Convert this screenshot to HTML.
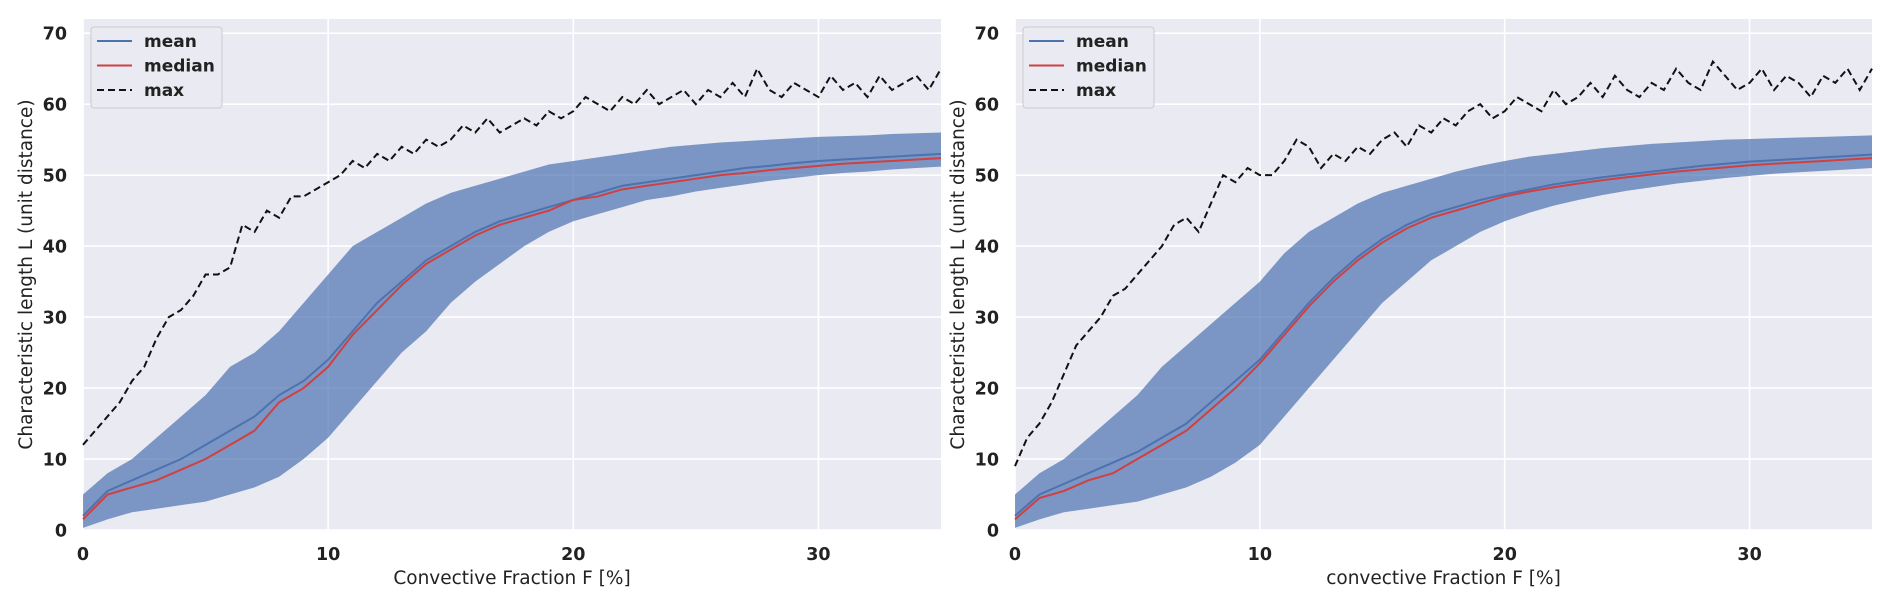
<!DOCTYPE html>
<html><head><meta charset="utf-8"><style>
body{margin:0;background:#fff;width:1892px;height:605px;overflow:hidden;font-family:"DejaVu Sans","Liberation Sans",sans-serif}
</style></head><body>
<svg id="chart" width="1892" height="605" xmlns="http://www.w3.org/2000/svg" font-family="DejaVu Sans, Liberation Sans, sans-serif"></svg>
<script>
const xsBand=[0,1,2,3,4,5,6,7,8,9,10,11,12,13,14,15,16,17,18,19,20,21,22,23,24,25,26,27,28,29,30,31,32,33,34,35];
// left panel
const L_mean=[2,5.5,7,8.5,10,12,14,16,19,21,24,28,32,35,38,40,42,43.5,44.5,45.5,46.5,47.5,48.5,49,49.5,50,50.5,51,51.3,51.7,52,52.2,52.4,52.6,52.8,53];
const L_median=[1.5,5,6,7,8.5,10,12,14,18,20,23,27.5,31,34.5,37.5,39.5,41.5,43,44,45,46.5,47,48,48.5,49,49.5,50,50.3,50.7,51,51.3,51.6,51.8,52,52.2,52.4];
const L_upper=[5,8,10,13,16,19,23,25,28,32,36,40,42,44,46,47.5,48.5,49.5,50.5,51.5,52,52.5,53,53.5,54,54.3,54.6,54.8,55,55.2,55.4,55.5,55.6,55.8,55.9,56];
const L_lower=[0.3,1.5,2.5,3,3.5,4,5,6,7.5,10,13,17,21,25,28,32,35,37.5,40,42,43.5,44.5,45.5,46.5,47,47.7,48.2,48.7,49.2,49.6,50,50.3,50.5,50.8,51,51.2];
const xsMax=[0,0.5,1,1.5,2,2.5,3,3.5,4,4.5,5,5.5,6,6.5,7,7.5,8,8.5,9,9.5,10,10.5,11,11.5,12,12.5,13,13.5,14,14.5,15,15.5,16,16.5,17,17.5,18,18.5,19,19.5,20,20.5,21,21.5,22,22.5,23,23.5,24,24.5,25,25.5,26,26.5,27,27.5,28,28.5,29,29.5,30,30.5,31,31.5,32,32.5,33,33.5,34,34.5,35];
const L_max=[12,14,16,18,21,23,27,30,31,33,36,36,37,43,42,45,44,47,47,48,49,50,52,51,53,52,54,53,55,54,55,57,56,58,56,57,58,57,59,58,59,61,60,59,61,60,62,60,61,62,60,62,61,63,61,65,62,61,63,62,61,64,62,63,61,64,62,63,64,62,65];
// right panel
const R_mean=[2,5,6.5,8,9.5,11,13,15,18,21,24,28,32,35.5,38.5,41,43,44.5,45.5,46.5,47.3,48,48.7,49.2,49.7,50.1,50.5,50.9,51.3,51.6,51.9,52.1,52.3,52.5,52.7,52.9];
const R_median=[1.5,4.5,5.5,7,8,10,12,14,17,20,23.5,27.5,31.5,35,38,40.5,42.5,44,45,46,47,47.7,48.3,48.8,49.3,49.7,50.1,50.5,50.8,51.1,51.4,51.6,51.8,52,52.2,52.4];
const R_upper=[5,8,10,13,16,19,23,26,29,32,35,39,42,44,46,47.5,48.5,49.5,50.5,51.3,52,52.6,53,53.4,53.8,54.1,54.4,54.6,54.8,55,55.1,55.2,55.3,55.4,55.5,55.6];
const R_lower=[0.3,1.5,2.5,3,3.5,4,5,6,7.5,9.5,12,16,20,24,28,32,35,38,40,42,43.5,44.7,45.7,46.5,47.2,47.8,48.3,48.8,49.2,49.6,49.9,50.2,50.4,50.6,50.8,51];
const R_max=[9,13,15,18,22,26,28,30,33,34,36,38,40,43,44,42,46,50,49,51,50,50,52,55,54,51,53,52,54,53,55,56,54,57,56,58,57,59,60,58,59,61,60,59,62,60,61,63,61,64,62,61,63,62,65,63,62,66,64,62,63,65,62,64,63,61,64,63,65,62,65];
const yTicks=[0,10,20,30,40,50,60,70];
const xTicks=[0,10,20,30];

const NS="http://www.w3.org/2000/svg";
const svg=document.getElementById('chart');
function el(tag,attrs,parent){const e=document.createElementNS(NS,tag);for(const k in attrs)e.setAttribute(k,attrs[k]);(parent||svg).appendChild(e);return e;}

function panel(px0,px1,xlabel,mean,median,upper,lower,mx,pname){
  const py0=19,py1=530;
  const xS=v=>px0+(v/35)*(px1-px0);
  const yS=v=>py1-(v/72)*(py1-py0);
  const g=el('g',{});
  
  
  const bg=el('rect',{x:px0,y:py0,width:px1-px0,height:py1-py0,fill:'#eaeaf2'},g);
  
  
  yTicks.forEach(t=>{
    const l=el('line',{x1:px0,x2:px1,y1:yS(t),y2:yS(t),stroke:'#fff','stroke-width':1.6},g);
    
    
    const tx=el('text',{x:px0-16,y:yS(t)+6.5,'text-anchor':'end','font-size':17.5,'font-weight':'bold',fill:'#222'},g);
    tx.textContent=t;
    
    
  });
  xTicks.forEach(t=>{
    const l=el('line',{x1:xS(t),x2:xS(t),y1:py0,y2:py1,stroke:'#fff','stroke-width':1.6},g);
    
    
    const tx=el('text',{x:xS(t),y:py1+30,'text-anchor':'middle','font-size':17.5,'font-weight':'bold',fill:'#222'},g);
    tx.textContent=t;
    
    
  });
  let d='M'+xsBand.map((x,i)=>xS(x)+','+yS(upper[i])).join('L');
  for(let i=xsBand.length-1;i>=0;i--)d+='L'+xS(xsBand[i])+','+yS(lower[i]);
  const band=el('path',{d:d+'Z',fill:'#4c72b0','fill-opacity':0.7},g);
  
  
  const ml=el('polyline',{points:xsBand.map((x,i)=>xS(x)+','+yS(mean[i])).join(' '),fill:'none',stroke:'#4c72b0','stroke-width':2},g);
  
  
  const md=el('polyline',{points:xsBand.map((x,i)=>xS(x)+','+yS(median[i])).join(' '),fill:'none',stroke:'#d04040','stroke-width':2},g);
  
  
  const mxl=el('polyline',{points:xsMax.map((x,i)=>xS(x)+','+yS(mx[i])).join(' '),fill:'none',stroke:'#111','stroke-width':2,'stroke-dasharray':'7,4'},g);
  
  
  const xl=el('text',{x:(px0+px1)/2,y:584,'text-anchor':'middle','font-size':18.5,fill:'#222'},g);
  xl.textContent=xlabel;
  
  
  const cy=(py0+py1)/2, cx=px0-51;
  const yl=el('text',{x:cx,y:cy,'text-anchor':'middle','font-size':18.5,fill:'#222',transform:'rotate(-90 '+cx+' '+cy+')'},g);
  yl.textContent='Characteristic length L (unit distance)';
  
  
  // legend
  const lg=el('g',{},g);
  
  
  el('rect',{x:px0+8,y:27,width:131,height:81,rx:3,fill:'#eaeaf2',stroke:'#ccc','stroke-width':1},lg);
  [['mean','#4c72b0',null],['median','#d04040',null],['max','#111','7,4']].forEach((e,i)=>{
    const y=41+i*24.5;
    const a={x1:px0+14,x2:px0+49,y1:y,y2:y,stroke:e[1],'stroke-width':2};
    if(e[2])a['stroke-dasharray']=e[2];
    el('line',a,lg);
    const t=el('text',{x:px0+61,y:y+6,'font-size':17,'font-weight':'bold',fill:'#222'},lg);
    t.textContent=e[0];
    
    
  });
}
panel(83,941,'Convective Fraction F [%]',L_mean,L_median,L_upper,L_lower,L_max,'left-panel');
panel(1015,1872,'convective Fraction F [%]',R_mean,R_median,R_upper,R_lower,R_max,'right-panel');
</script>
</body></html>
